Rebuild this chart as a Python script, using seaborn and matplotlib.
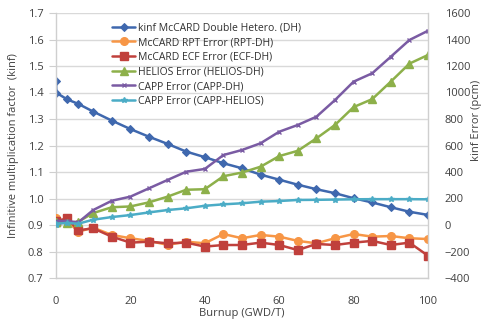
import numpy as np
import pandas as pd
import matplotlib
matplotlib.use("Agg")
import matplotlib.pyplot as plt
import seaborn as sns

# burnup steps (GWD/T)
burnup = [0, 0.1, 3, 6, 10, 15, 20, 25, 30, 35, 40, 45, 50,
          55, 60, 65, 70, 75, 80, 85, 90, 95, 100]

# left axis: kinf of McCARD double hetero
kinf_dh = [1.445, 1.399, 1.374, 1.357, 1.328, 1.294, 1.262, 1.233, 1.206, 1.177,
           1.156, 1.133, 1.114, 1.090, 1.071, 1.052, 1.035, 1.020, 1.001, 0.985,
           0.967, 0.950, 0.938]

# right axis: errors (pcm)
rpt_dh = [50, 40, 30, -50, -20, -75, -100, -120, -150, -126, -138, -68, -100,
          -75, -88, -120, -138, -100, -68, -88, -83, -100, -106]
ecf_dh = [25, 30, 50, -40, -25, -88, -133, -126, -138, -133, -163, -151, -151,
          -133, -151, -189, -143, -151, -133, -120, -151, -133, -232]
helios_dh = [25, 20, 15, 25, 90, 134, 140, 171, 214, 266, 270, 368, 396,
             440, 520, 560, 654, 755, 890, 950, 1082, 1218, 1283]
capp_dh = [25, 30, 30, 20, 113, 183, 214, 277, 340, 402, 423, 528, 566,
           617, 704, 755, 817, 943, 1082, 1145, 1270, 1396, 1466]
capp_helios = [0, 10, 15, 10, 40, 60, 75, 95, 113, 126, 145, 156, 164,
               176, 181, 189, 190, 192, 194, 195, 195, 195, 194]

labels = ["kinf McCARD Double Hetero. (DH)", "McCARD RPT Error (RPT-DH)",
          "McCARD ECF Error (ECF-DH)", "HELIOS Error (HELIOS-DH)",
          "CAPP Error (CAPP-DH)", "CAPP Error (CAPP-HELIOS)"]
colors = ["#3F68AE", "#F79646", "#C0403C", "#8DB04A", "#7A5BA3", "#4BACC6"]
markers = ["D", "o", "s", "^", "x", "*"]
msizes = [4, 5.5, 5.5, 5.5, 3.5, 4]

sns.set_style("white")
plt.rcParams["font.family"] = ["Open Sans", "DejaVu Sans"]

fig = plt.figure(figsize=(4.84, 3.2), dpi=100)
ax = fig.add_axes([56/484, 1-278/320, (428-56)/484, (278-13)/320])
ax2 = ax.twinx()

df = pd.DataFrame({"burnup": burnup, "kinf": kinf_dh})
sns.lineplot(data=df, x="burnup", y="kinf", ax=ax, color=colors[0], marker=markers[0],
             markersize=msizes[0], markeredgecolor=colors[0], linewidth=1.8, label=labels[0], legend=False)

err_series = [rpt_dh, ecf_dh, helios_dh, capp_dh, capp_helios]
for i, vals in enumerate(err_series, start=1):
    d = pd.DataFrame({"burnup": burnup, "err": vals})
    sns.lineplot(data=d, x="burnup", y="err", ax=ax2, color=colors[i], marker=markers[i],
                 markersize=msizes[i], markeredgecolor=colors[i], markeredgewidth=1,
                 linewidth=1.8, label=labels[i], legend=False)

ax.set_xlim(0, 100)
ax.set_ylim(0.7, 1.7)
ax.set_yticks(np.arange(0.7, 1.71, 0.1))
ax.set_yticklabels([f"{v:.1f}" for v in np.arange(0.7, 1.71, 0.1)])
ax.set_xticks(range(0, 101, 20))
ax2.set_ylim(-400, 1600)
ax2.set_yticks(range(-400, 1601, 200))

ax.yaxis.grid(True, color="#d9d9d9", linewidth=1)
ax2.grid(False)
for a in (ax, ax2):
    for s in a.spines.values():
        s.set_visible(False)
ax.spines["left"].set_visible(True)
ax.spines["bottom"].set_visible(True)
ax2.spines["right"].set_visible(True)
for s in (ax.spines["left"], ax.spines["bottom"], ax2.spines["right"]):
    s.set_color("#cfcfcf")
    s.set_linewidth(1)

ax.tick_params(axis="y", length=5, color="#cfcfcf", labelsize=8, labelcolor="#404040", pad=4)
ax.tick_params(axis="x", length=4, color="#cfcfcf", labelsize=8, labelcolor="#404040", pad=9)
ax2.tick_params(axis="y", length=0, labelsize=8, labelcolor="#404040", pad=12)

ax.set_xlabel("Burnup (GWD/T)", fontsize=8, color="#404040", labelpad=1)
ax.set_ylabel("Infinitive multiplication factor  (kinf)", fontsize=8, color="#404040", labelpad=6)
ax2.set_ylabel("")
fig.text(476/484, 1-120/320, "kinf Error (pcm)", rotation=90, fontsize=8, color="#404040",
         ha="center", va="center")

h1, l1 = ax.get_legend_handles_labels()
h2, l2 = ax2.get_legend_handles_labels()
ax2.legend(h1 + h2, l1 + l2, loc="upper left", bbox_to_anchor=(0.14, 0.98), frameon=False,
           fontsize=7.5, handlelength=2.2, handletextpad=0.3, labelspacing=0.35,
           borderaxespad=0, labelcolor="#303030")

fig.savefig("out.png", dpi=100)
